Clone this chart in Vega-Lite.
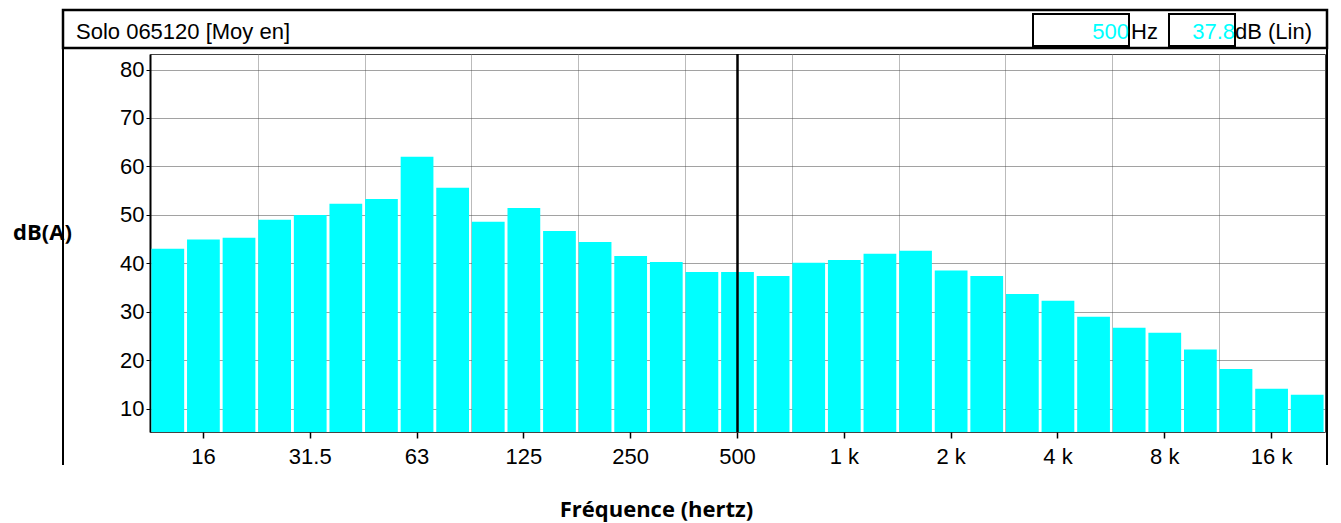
{
  "$schema": "https://vega.github.io/schema/vega-lite/v6.json",
  "width": 1175,
  "height": 378,
  "autosize": "none",
  "padding": {"left": 150, "top": 54, "right": 16, "bottom": 91},
  "background": "white",
  "config": {
    "view": {"stroke": "#444", "strokeWidth": 1},
    "font": "Liberation Sans"
  },
  "datasets": {
    "bands": [
      {"band": "12.5", "level": 43.0},
      {"band": "16", "level": 44.9},
      {"band": "20", "level": 45.3},
      {"band": "25", "level": 49.0},
      {"band": "31.5", "level": 50.0},
      {"band": "40", "level": 52.3},
      {"band": "50", "level": 53.3},
      {"band": "63", "level": 62.0},
      {"band": "80", "level": 55.6},
      {"band": "100", "level": 48.6},
      {"band": "125", "level": 51.4},
      {"band": "160", "level": 46.7},
      {"band": "200", "level": 44.4},
      {"band": "250", "level": 41.5},
      {"band": "315", "level": 40.3},
      {"band": "400", "level": 38.2},
      {"band": "500", "level": 38.2},
      {"band": "630", "level": 37.4},
      {"band": "800", "level": 40.1},
      {"band": "1 k", "level": 40.7},
      {"band": "1.25 k", "level": 42.0},
      {"band": "1.6 k", "level": 42.6},
      {"band": "2 k", "level": 38.5},
      {"band": "2.5 k", "level": 37.4},
      {"band": "3.15 k", "level": 33.7},
      {"band": "4 k", "level": 32.3},
      {"band": "5 k", "level": 29.0},
      {"band": "6.3 k", "level": 26.7},
      {"band": "8 k", "level": 25.7},
      {"band": "10 k", "level": 22.2},
      {"band": "12.5 k", "level": 18.2},
      {"band": "16 k", "level": 14.1},
      {"band": "20 k", "level": 12.9}
    ],
    "cursor": [{"band": "500", "freq": "500", "level": 37.8}],
    "header": [{"title": "Solo 065120 [Moy en]"}]
  },
  "resolve": {"axis": {"x": "independent", "y": "independent"}},
  "layer": [
    {
      "data": {"name": "bands"},
      "mark": {"type": "bar", "color": "#00FFFF", "clip": true},
      "encoding": {
        "x": {
          "field": "band",
          "type": "nominal",
          "sort": null,
          "scale": {
            "domain": ["12.5","16","20","25","31.5","40","50","63","80","100","125","160","200","250","315","400","500","630","800","1 k","1.25 k","1.6 k","2 k","2.5 k","3.15 k","4 k","5 k","6.3 k","8 k","10 k","12.5 k","16 k","20 k"],
            "paddingInner": 0.08,
            "paddingOuter": 0.04
          },
          "axis": {
            "orient": "bottom",
            "values": ["16","31.5","63","125","250","500","1 k","2 k","4 k","8 k","16 k"],
            "labelAngle": 0,
            "labelFont": "Liberation Sans",
            "labelFontSize": 22,
            "labelColor": "black",
            "labelPadding": 8,
            "tickSize": 6,
            "tickColor": "black",
            "tickWidth": 1.5,
            "domain": false,
            "grid": false,
            "title": "Fréquence (hertz)",
            "titleFont": "Open Sans",
            "titleFontSize": 22,
            "titleFontWeight": "bold",
            "titleColor": "black",
            "titleX": 506,
            "titleY": 77,
            "titleAlign": "center",
            "titleBaseline": "middle"
          }
        },
        "y": {
          "field": "level",
          "type": "quantitative",
          "scale": {"domain": [5.2, 83.2], "zero": false, "nice": false},
          "axis": {
            "orient": "left",
            "values": [10, 20, 30, 40, 50, 60, 70, 80],
            "labelFont": "Liberation Sans",
            "labelFontSize": 22,
            "labelColor": "black",
            "labelPadding": 2,
            "tickSize": 4,
            "tickColor": "black",
            "domain": true,
            "domainColor": "black",
            "domainWidth": 2,
            "grid": true,
            "gridColor": "#444",
            "gridDash": [1, 1],
            "gridWidth": 1,
            "title": "dB(A)",
            "titleFont": "Open Sans",
            "titleFontSize": 22,
            "titleFontWeight": "bold",
            "titleColor": "black",
            "titleAngle": 0,
            "titleX": -108,
            "titleY": 178,
            "titleAlign": "center",
            "titleBaseline": "middle"
          }
        }
      }
    },
    {
      "data": {"name": "cursor"},
      "mark": {"type": "rule", "color": "black", "strokeWidth": 2.5},
      "encoding": {
        "x": {
          "field": "band",
          "type": "nominal",
          "axis": {
            "orient": "top",
            "values": ["25","50","100","200","400","800","1.6 k","3.15 k","6.3 k","12.5 k"],
            "bandPosition": 0,
            "labels": false,
            "ticks": false,
            "domain": false,
            "grid": true,
            "gridColor": "#777",
            "gridDash": [1, 1],
            "gridWidth": 1,
            "title": null
          }
        }
      }
    },
    {
      "data": {"name": "header"},
      "mark": {"type": "rule", "color": "black", "strokeWidth": 2},
      "encoding": {"x": {"value": -87}, "y": {"value": -6}, "y2": {"value": 411}}
    },
    {
      "data": {"name": "header"},
      "mark": {"type": "rule", "color": "black", "strokeWidth": 2},
      "encoding": {"x": {"value": 1177}, "y": {"value": -6}, "y2": {"value": 411}}
    },
    {
      "data": {"name": "header"},
      "mark": {"type": "rect", "fill": "white", "stroke": "black", "strokeWidth": 2.5},
      "encoding": {"x": {"value": -87}, "x2": {"value": 1177}, "y": {"value": -44}, "y2": {"value": -6}}
    },
    {
      "data": {"name": "header"},
      "mark": {"type": "text", "align": "left", "baseline": "alphabetic", "fontSize": 22, "font": "Liberation Sans", "color": "black"},
      "encoding": {"x": {"value": -74}, "y": {"value": -15}, "text": {"field": "title"}}
    },
    {
      "data": {"name": "cursor"},
      "mark": {"type": "rect", "fill": "white", "stroke": "black", "strokeWidth": 2},
      "encoding": {"x": {"value": 883}, "x2": {"value": 979}, "y": {"value": -40}, "y2": {"value": -8}}
    },
    {
      "data": {"name": "cursor"},
      "mark": {"type": "rect", "fill": "white", "stroke": "black", "strokeWidth": 2},
      "encoding": {"x": {"value": 1019}, "x2": {"value": 1085}, "y": {"value": -40}, "y2": {"value": -8}}
    },
    {
      "data": {"name": "cursor"},
      "mark": {"type": "text", "align": "right", "baseline": "alphabetic", "fontSize": 22, "font": "Liberation Sans", "color": "#00FFFF"},
      "encoding": {"x": {"value": 979}, "y": {"value": -15}, "text": {"field": "freq"}}
    },
    {
      "data": {"name": "cursor"},
      "mark": {"type": "text", "align": "left", "baseline": "alphabetic", "fontSize": 22, "font": "Liberation Sans", "color": "black", "text": "Hz"},
      "encoding": {"x": {"value": 981}, "y": {"value": -15}}
    },
    {
      "data": {"name": "cursor"},
      "mark": {"type": "text", "align": "right", "baseline": "alphabetic", "fontSize": 22, "font": "Liberation Sans", "color": "#00FFFF"},
      "encoding": {"x": {"value": 1085}, "y": {"value": -15}, "text": {"field": "level", "format": ".1f"}}
    },
    {
      "data": {"name": "cursor"},
      "mark": {"type": "text", "align": "left", "baseline": "alphabetic", "fontSize": 22, "font": "Liberation Sans", "color": "black", "text": "dB (Lin)"},
      "encoding": {"x": {"value": 1085}, "y": {"value": -15}}
    }
  ]
}
